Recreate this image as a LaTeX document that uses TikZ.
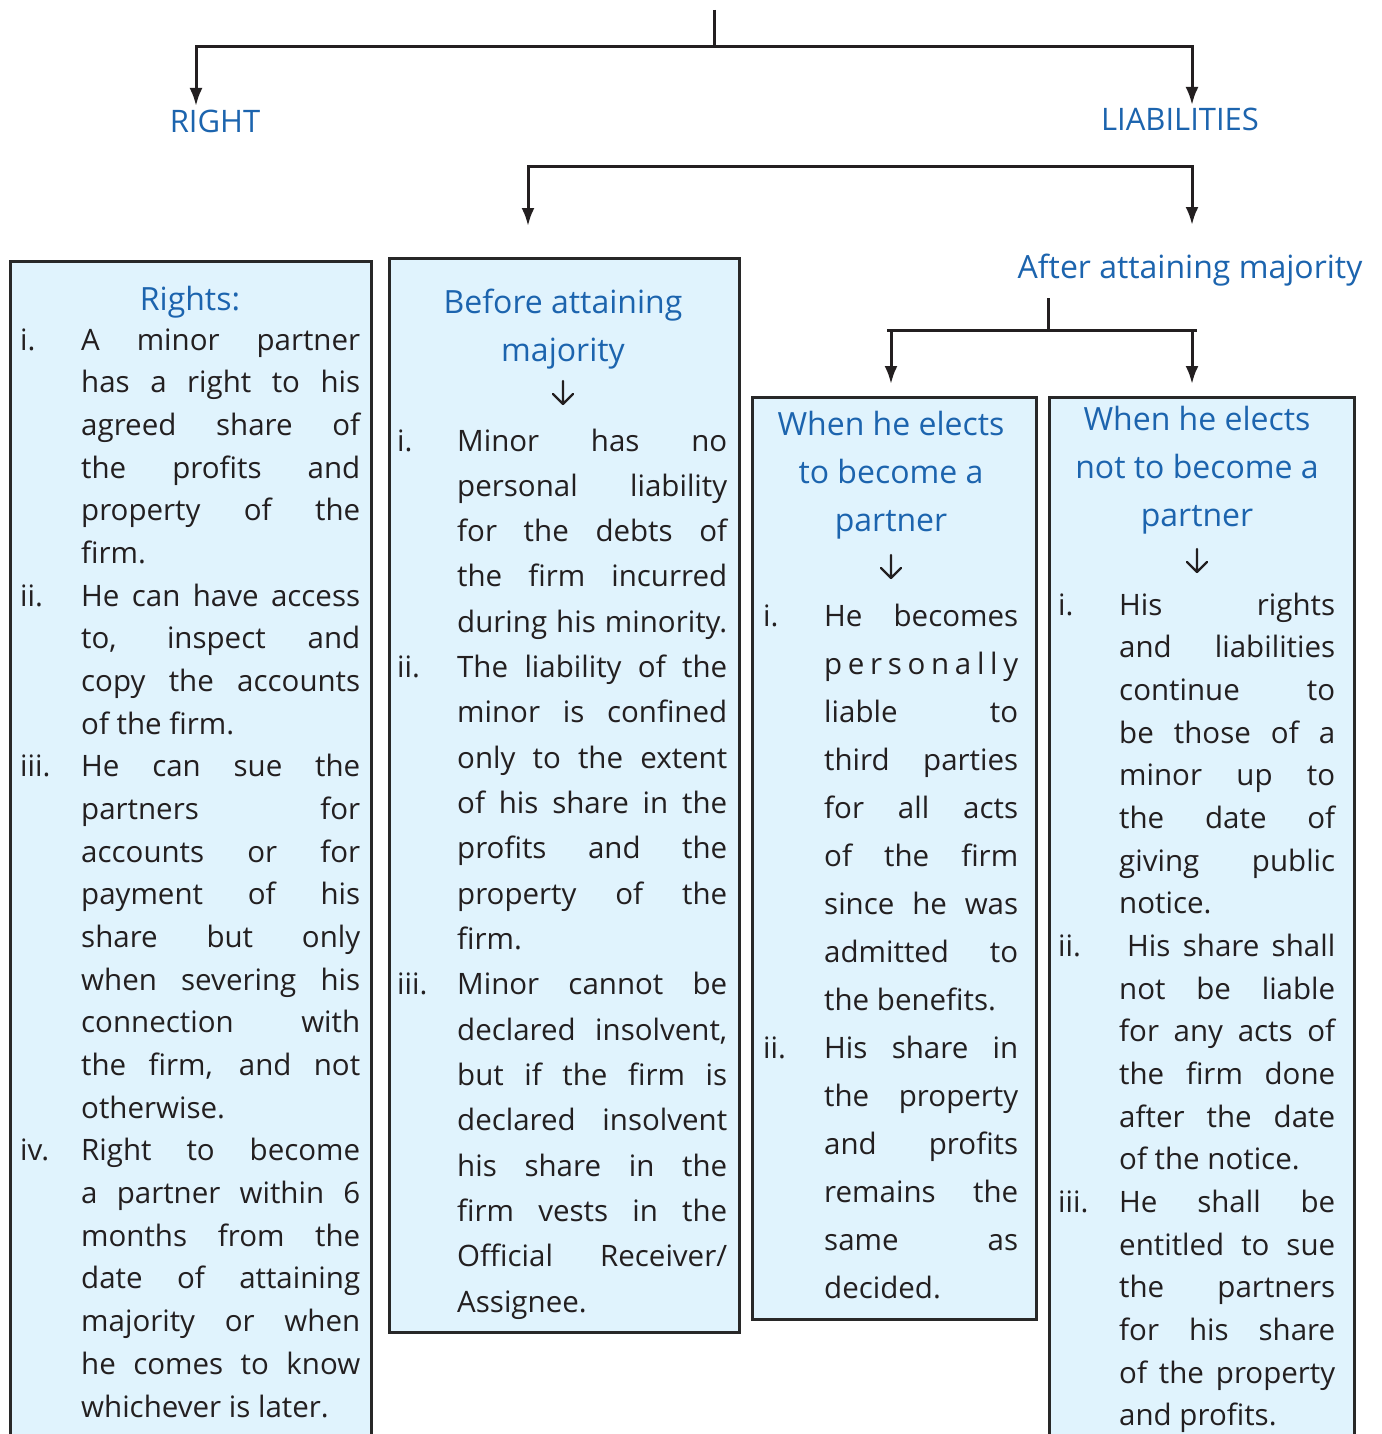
\documentclass[tikz,border=0pt]{standalone}
\usepackage{fontspec}
\setmainfont{Open Sans}
\usepackage{graphicx}
\usetikzlibrary{arrows.meta}
\definecolor{ttl}{RGB}{28,100,174}
\definecolor{ink}{RGB}{35,31,32}
\definecolor{boxfill}{RGB}{224,243,253}
\definecolor{edge}{RGB}{40,40,40}

\newlength\labw
\newlength\txw
\newcommand\fitline[1]{\setbox0\hbox{#1}\ifdim\wd0>\txw\resizebox{\txw}{\height}{#1}\else\makebox[\txw][s]{#1}\fi}
\newcommand\jline[2]{\noindent\makebox[\labw][l]{#1}\fitline{#2}\par}
\newcommand\lline[2]{\noindent\makebox[\labw][l]{#1}#2\par}
\newcommand\colbox[4]{\setlength\labw{#1}\setlength\txw{#2}%
  \parbox[t]{\dimexpr#1+#2\relax}{\fontsize{29.5pt}{#3}\selectfont
  \lineskiplimit=-100pt\parskip=0pt\parindent=0pt #4}}

\begin{document}
\begin{tikzpicture}[x=1pt,y=-1pt,
  conn/.style={line width=3pt, draw=ink},
  arr/.style={conn, -{Latex[length=18pt,width=13pt]}},
  darr/.style={conn, {Latex[length=18pt,width=13pt]}-{Latex[length=18pt,width=13pt]}},
  box/.style={draw=edge, line width=2.8pt, fill=boxfill, anchor=north west, inner sep=0pt},
  ttlA/.style={text=ttl, font=\fontsize{31pt}{36pt}\selectfont, anchor=base, inner sep=0pt},
  ttlB/.style={text=ttl, font=\fontsize{32pt}{38pt}\selectfont, anchor=base, inner sep=0pt},
  body/.style={text=ink, anchor=base west, inner sep=0pt},
  smallarr/.style={draw=ink, line width=2.2pt, line cap=round, line join=round}
]
\useasboundingbox (0,0) rectangle (1381,1434);
\fill[white] (0,0) rectangle (1381,1434);

% ---- top level ----
\coordinate (top) at (714,10);
\coordinate (j1) at (714,47);
\coordinate (c1) at (196,47);
\coordinate (c2) at (1192,47);
\coordinate (aR) at (196,106);
\coordinate (aL) at (1192,105);
\node[ttlA] (right) at (215,133) {RIGHT};
\node[ttlA] (liab) at (1180,131) {LIABILITIES};
\draw[conn] (top) -- (j1);
\draw[darr] (aR) -- (c1) -- (c2) -- (aL);

% ---- second level ----
\coordinate (d1) at (528,167);
\coordinate (d2) at (1192,167);
\coordinate (aB) at (528,226);
\coordinate (aA) at (1192,225);
\draw[darr] (aB) -- (d1) -- (d2) -- (aA);

\node[ttlB] (after) at (1190,278) {After attaining majority};

% ---- third level ----
\coordinate (s0) at (1048,298);
\coordinate (s1) at (1048,330);
\coordinate (h0) at (887,330);
\coordinate (h1) at (1197,330);
\coordinate (w0) at (891,330);
\coordinate (n0) at (1192,330);
\coordinate (aW) at (891,384);
\coordinate (aN) at (1192,384);
\draw[conn] (s0) -- (s1);
\draw[conn] (h0) -- (h1);
\draw[arr] (w0) -- (aW);
\draw[arr] (n0) -- (aN);

% ---- boxes ----
\node[box, minimum width=361pt, minimum height=1250pt] (b1) at (9,260) {};
\node[box, minimum width=350pt, minimum height=1074pt] (b2) at (388,257) {};
\node[box, minimum width=284pt, minimum height=922pt] (b3) at (751,396) {};
\node[box, minimum width=305pt, minimum height=1100pt] (b4) at (1048,396) {};

% ---- titles ----
\node[ttlB] (t1) at (190,310) {Rights:};
\node[ttlB] (t2a) at (563,313) {Before attaining};
\node[ttlB] (t2b) at (563,361) {majority};
\node[ttlB] (t3a) at (891,435) {When he elects};
\node[ttlB] (t3b) at (891,483) {to become a};
\node[ttlB] (t3c) at (891,531) {partner};
\node[ttlB] (t4a) at (1197,430) {When he elects};
\node[ttlB] (t4b) at (1197,478) {not to become a};
\node[ttlB] (t4c) at (1197,526) {partner};

% small arrows inside boxes
\draw[smallarr] (563,381) -- (563,404) (553,394) -- (563,404) -- (573,394);
\draw[smallarr] (891,555) -- (891,578) (881,568) -- (891,578) -- (901,568);
\draw[smallarr] (1197,549) -- (1197,572) (1187,562) -- (1197,572) -- (1207,562);

% ---- box texts ----
\node[body] (x1) at (20,350) {\colbox{61pt}{279pt}{42.68pt}{%
\jline{i.}{A minor partner}
\jline{}{has a right to his}
\jline{}{agreed share of}
\jline{}{the profits and}
\jline{}{property of the}
\lline{}{firm.}
\jline{ii.}{He can have access}
\jline{}{to, inspect and}
\jline{}{copy the accounts}
\lline{}{of the firm.}
\jline{iii.}{He can sue the}
\jline{}{partners for}
\jline{}{accounts or for}
\jline{}{payment of his}
\jline{}{share but only}
\jline{}{when severing his}
\jline{}{connection with}
\jline{}{the firm, and not}
\lline{}{otherwise.}
\jline{iv.}{Right to become}
\jline{}{a partner within 6}
\jline{}{months from the}
\jline{}{date of attaining}
\jline{}{majority or when}
\jline{}{he comes to know}
\lline{}{whichever is later.}
}};

\node[body] (x2) at (397,451) {\colbox{60pt}{270pt}{45.32pt}{%
\jline{i.}{Minor has no}
\jline{}{personal liability}
\jline{}{for the debts of}
\jline{}{the firm incurred}
\jline{}{during his minority.}
\jline{ii.}{The liability of the}
\jline{}{minor is confined}
\jline{}{only to the extent}
\jline{}{of his share in the}
\jline{}{profits and the}
\jline{}{property of the}
\lline{}{firm.}
\jline{iii.}{Minor cannot be}
\jline{}{declared insolvent,}
\jline{}{but if the firm is}
\jline{}{declared insolvent}
\jline{}{his share in the}
\jline{}{firm vests in the}
\jline{}{Official Receiver/}
\lline{}{Assignee.}
}};

\node[body] (x3) at (763,626) {\colbox{61pt}{194pt}{48pt}{%
\jline{i.}{He becomes}
\jline{}{p\hfill e\hfill r\hfill s\hfill o\hfill n\hfill a\hfill l\hfill l\hfill y}
\jline{}{liable to}
\jline{}{third parties}
\jline{}{for all acts}
\jline{}{of the firm}
\jline{}{since he was}
\jline{}{admitted to}
\lline{}{the benefits.}
\jline{ii.}{His share in}
\jline{}{the property}
\jline{}{and profits}
\jline{}{remains the}
\jline{}{same as}
\lline{}{decided.}
}};

\node[body] (x4) at (1058,615) {\colbox{61pt}{216pt}{42.68pt}{%
\jline{i.}{His rights}
\jline{}{and liabilities}
\jline{}{continue to}
\jline{}{be those of a}
\jline{}{minor up to}
\jline{}{the date of}
\jline{}{giving public}
\lline{}{notice.}
\jline{ii.}{\hspace*{8pt}His share shall}
\jline{}{not be liable}
\jline{}{for any acts of}
\jline{}{the firm done}
\jline{}{after the date}
\lline{}{of the notice.}
\jline{iii.}{He shall be}
\jline{}{entitled to sue}
\jline{}{the partners}
\jline{}{for his share}
\jline{}{of the property}
\lline{}{and profits.}
}};
\end{tikzpicture}
\end{document}
